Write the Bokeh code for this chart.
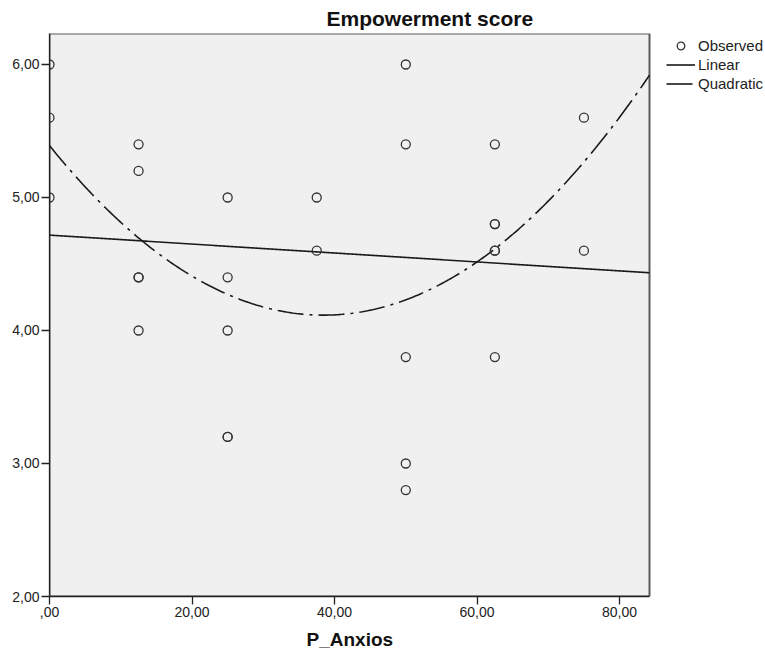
import numpy as np
from bokeh.plotting import figure
from bokeh.models import (Range1d, CustomJSTickFormatter, FixedTicker, Legend, LegendItem, Title)
from bokeh.embed import file_html
from bokeh.resources import INLINE

# ---- data ----
obs_x = [0, 0, 0,
         12.5, 12.5, 12.5, 12.5, 12.5,
         25, 25, 25, 25, 25,
         37.5, 37.5,
         50, 50, 50, 50, 50,
         62.5, 62.5, 62.5, 62.5, 62.5, 62.5,
         75, 75]
obs_y = [6.0, 5.6, 5.0,
         5.4, 5.2, 4.4, 4.4, 4.0,
         5.0, 4.4, 4.0, 3.2, 3.2,
         5.0, 4.6,
         6.0, 5.4, 3.8, 3.0, 2.8,
         5.4, 4.8, 4.8, 4.6, 4.6, 3.8,
         5.6, 4.6]
linear_coef = [4.717, -0.00336]              # b0, b1
quad_coef = [5.39, -0.06629, 0.000862]       # b0, b1, b2
x_ticks = [0, 20, 40, 60, 80]
y_ticks = [2, 3, 4, 5, 6]
title_text = "Empowerment score"
x_label = "P_Anxios"
legend_labels = ["Observed", "Linear", "Quadratic"]

X_MAX = 84.2
Y_MIN, Y_MAX = 2.0, 6.233
FONT = "Liberation Sans"

# plot box is 600 px wide; the canvas region right of it (116 px) holds the legend
LEFT, BOX_W, RIGHT_W = 49, 600, 116
x_view_max = X_MAX * (BOX_W + RIGHT_W) / BOX_W

p = figure(width=765, height=661, output_backend="svg", toolbar_location=None,
           x_range=Range1d(0, x_view_max), y_range=Range1d(Y_MIN, Y_MAX),
           min_border_left=LEFT, min_border_right=0, min_border_top=33, min_border_bottom=65,
           background_fill_color="white", border_fill_color="white")
p.title = None
p.xgrid.visible = False
p.ygrid.visible = False
p.outline_line_color = None

# plot-area background and frame
p.quad(left=[0], right=[X_MAX], bottom=[Y_MIN], top=[Y_MAX],
       fill_color="#f0f0f0", line_color="#5a5a5a", line_width=2)

t = Title(text=title_text, align="left", offset=277, text_font=FONT, text_font_size="21px",
          text_font_style="bold", text_color="#111111", standoff=8)
p.add_layout(t, "above")

fmt = CustomJSTickFormatter(code="""
let s = tick.toFixed(2).replace('.', ',');
if (s.startsWith('0,')) s = s.slice(1);
return s;
""")

for ax, ticks in ((p.xaxis[0], x_ticks), (p.yaxis[0], y_ticks)):
    ax.ticker = FixedTicker(ticks=ticks)
    ax.formatter = fmt
    ax.major_tick_out = 8
    ax.major_tick_in = 0
    ax.minor_tick_line_color = None
    ax.axis_line_color = "#222222"
    ax.axis_line_width = 1.3
    ax.major_tick_line_color = "#222222"
    ax.major_tick_line_width = 1.3
    ax.major_label_text_font = FONT
    ax.major_label_text_font_size = "14px"
    ax.major_label_text_color = "#222222"
    ax.major_label_standoff = 2

p.xaxis[0].bounds = (0, X_MAX)

# x-axis title, centred under the plot box
xt = Title(text=x_label, align="left", offset=257, text_font=FONT, text_font_size="19px",
           text_font_style="bold", text_color="#111111", standoff=14)
p.add_layout(xt, "below")

# fit lines
xs = np.linspace(0, X_MAX, 300)
lin_y = linear_coef[0] + linear_coef[1] * xs
quad_y = quad_coef[0] + quad_coef[1] * xs + quad_coef[2] * xs ** 2

r_lin = p.line(xs, lin_y, line_color="#1a1a1a", line_width=1.6)
r_quad = p.line(xs, quad_y, line_color="#1a1a1a", line_width=1.6, line_dash="26 6 3 6")
r_obs = p.scatter(obs_x, obs_y, marker="circle", size=9, fill_color=None,
                  line_color="#333333", line_width=1.3)

legend = Legend(items=[LegendItem(label=legend_labels[0], renderers=[r_obs]),
                       LegendItem(label=legend_labels[1], renderers=[r_lin]),
                       LegendItem(label=legend_labels[2], renderers=[r_quad])],
                location=(617, 503), padding=0, margin=0, spacing=0,
                glyph_width=29, glyph_height=19, label_height=19, label_standoff=3,
                label_text_font=FONT, label_text_font_size="15px", label_text_color="#222222",
                border_line_color=None, background_fill_alpha=0)
p.add_layout(legend, "center")

open("out.html", "w").write(file_html(p, INLINE))
